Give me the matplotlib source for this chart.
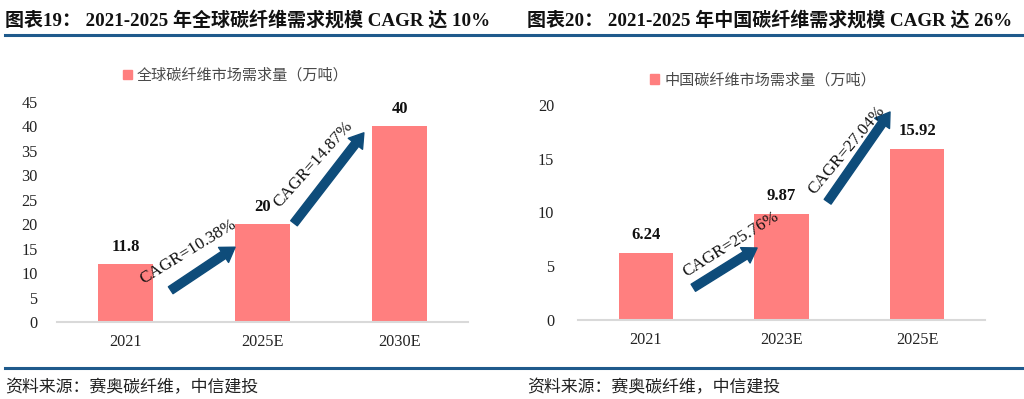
import matplotlib
matplotlib.use("Agg")
import matplotlib.pyplot as plt
from matplotlib.patches import Patch
from matplotlib.lines import Line2D

plt.rcParams['font.family'] = ['Liberation Serif', 'Noto Sans CJK SC']

# ---- data ----
left_title = "图表19： 2021-2025 年全球碳纤维需求规模 CAGR 达 10%"
right_title = "图表20： 2021-2025 年中国碳纤维需求规模 CAGR 达 26%"
left_cats = ["2021", "2025E", "2030E"]
left_vals = [11.8, 20, 40]
left_labels = ["11.8", "20", "40"]
left_legend = "全球碳纤维市场需求量（万吨）"
left_cagr = ["CAGR=10.38%", "CAGR=14.87%"]
right_cats = ["2021", "2023E", "2025E"]
right_vals = [6.24, 9.87, 15.92]
right_labels = ["6.24", "9.87", "15.92"]
right_legend = "中国碳纤维市场需求量（万吨）"
right_cagr = ["CAGR=25.76%", "CAGR=27.04%"]
source = "资料来源：赛奥碳纤维，中信建投"

BAR = "#FF7F7F"
ARROW = "#0E4C7A"
LINE = "#1F5A8C"

fig = plt.figure(figsize=(10.24, 3.99), dpi=100)

# header / footer lines and texts
fig.add_artist(Line2D([5/1024, 1.0], [1-35/399, 1-35/399], color=LINE, lw=2.2))
fig.add_artist(Line2D([5/1024, 1.0], [1-368/399, 1-368/399], color=LINE, lw=2.2))
fig.text(5/1024, 1-20/399, left_title, fontsize=13.7, fontweight='bold', va='center', ha='left', color='#111111')
fig.text(527/1024, 1-20/399, right_title, fontsize=13.7, fontweight='bold', va='center', ha='left', color='#111111')
fig.text(5/1024, 1-387/399, source, fontsize=12.2, va='center', ha='left', color='#222222', style='italic',
         family=['Noto Sans CJK SC'])
fig.text(527/1024, 1-387/399, source, fontsize=12.2, va='center', ha='left', color='#222222', style='italic',
         family=['Noto Sans CJK SC'])


def panel(rect, cats, vals, labels, ymax, ystep, legend_text, legend_x, legend_y,
          arrows, cagr_texts, cagr_pos, cagr_rot, ypad):
    ax = fig.add_axes(rect)
    x = list(range(len(cats)))
    ax.bar(x, vals, width=0.4, color=BAR, zorder=2)
    ax.set_xlim(-0.5, len(cats) - 0.5)
    ax.set_ylim(0, ymax)
    ax.set_yticks([i * ystep for i in range(int(ymax / ystep) + 1)])
    ax.set_xticks(x)
    ax.set_xticklabels(cats)
    for s in ['top', 'right', 'left']:
        ax.spines[s].set_visible(False)
    ax.spines['bottom'].set_color('#D9D9D9')
    ax.spines['bottom'].set_linewidth(1.5)
    ax.tick_params(axis='both', length=0, labelsize=11.7, colors='#222222')
    ax.tick_params(axis='y', pad=ypad)
    ax.tick_params(axis='x', pad=9)
    for xi, v, lab in zip(x, vals, labels):
        ax.annotate(lab, (xi, v), xytext=(0, 7), textcoords='offset points',
                    ha='center', va='bottom', fontsize=12, fontweight='bold', color='#111111')
    for (tail, tip) in arrows:
        ax.annotate("", xy=tip, xytext=tail,
                    arrowprops=dict(arrowstyle="simple,head_width=13,head_length=10,tail_width=6",
                                    mutation_scale=1, color=ARROW, shrinkA=0, shrinkB=0), zorder=3)
    for t, p, r in zip(cagr_texts, cagr_pos, cagr_rot):
        ax.text(p[0], p[1], t, rotation=r, ha='center', va='center', fontsize=12.3,
                color='#111111', rotation_mode='anchor', zorder=4)
    ax.legend(handles=[Patch(color=BAR, label=legend_text)], frameon=False,
              loc='center', bbox_to_anchor=(legend_x, legend_y), fontsize=10.9,
              handlelength=0.6, handleheight=0.6, handletextpad=0.35, labelcolor='#4A4A4A')
    return ax


panel([57/1024, 77/399, 411/1024, 220/399], left_cats, left_vals, left_labels, 45, 5,
      left_legend, 0.435, 1.12,
      [((0.33, 6.5), (0.80, 15.3)), ((1.23, 20.2), (1.74, 38.7))],
      left_cagr, [(0.46, 14.3), (1.37, 32.3)], [31.5, 48], 14)

panel([578/1024, 79/399, 407/1024, 215/399], right_cats, right_vals, right_labels, 20, 5,
      right_legend, 0.455, 1.117,
      [((0.35, 3.0), (0.82, 6.7)), ((1.34, 11.0), (1.80, 19.35))],
      right_cagr, [(0.63, 7.0), (1.48, 15.8)], [32, 50], 17)

fig.savefig("out.png", dpi=100)
